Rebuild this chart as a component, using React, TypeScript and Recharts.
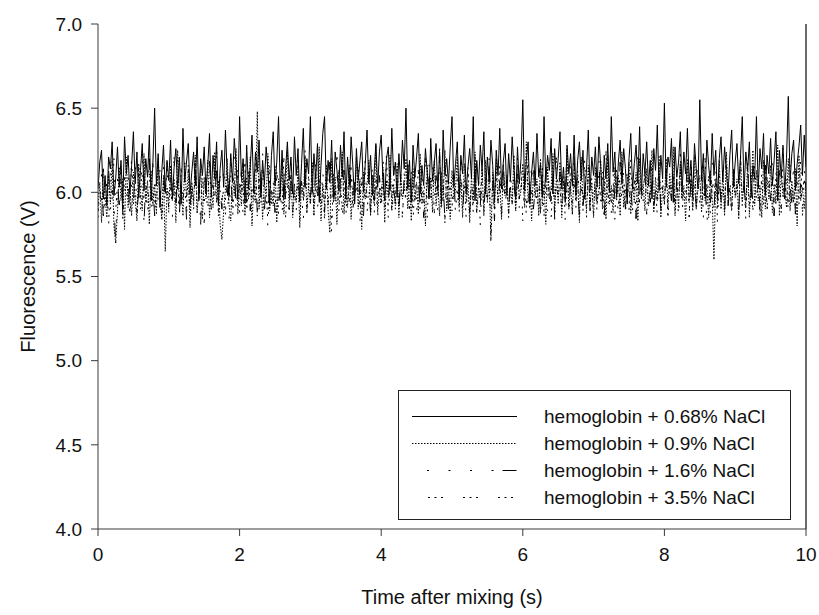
import React from 'react';
import { LineChart, Line, XAxis, YAxis, Legend, ReferenceLine } from 'recharts';

// sampling step of the recordings (s)
const SAMPLE_STEP = 0.025;

const SERIES_NAMES = [
  'hemoglobin + 0.68% NaCl',
  'hemoglobin + 0.9% NaCl',
  'hemoglobin + 1.6% NaCl',
  'hemoglobin + 3.5% NaCl',
];

const X_TICKS = [0, 2, 4, 6, 8, 10];
const Y_TICKS = [4.0, 4.5, 5.0, 5.5, 6.0, 6.5, 7.0];

const NACL_068 = [
  6.02, 6.18, 6.25, 5.96, 6.10, 5.92, 6.21, 6.14, 6.30, 5.98,
  6.08, 6.27, 6.03, 6.19, 5.94, 6.33, 6.11, 6.22, 5.99, 6.16,
  6.36, 6.05, 6.24, 5.97, 6.13, 6.29, 6.01, 6.20, 6.09, 6.34,
  5.95, 6.17, 6.50, 6.04, 6.23, 5.91, 6.12, 6.28, 6.00, 6.19,
  6.07, 6.31, 5.96, 6.15, 6.26, 6.02, 6.21, 5.93, 6.38, 6.06,
  6.18, 6.29, 5.99, 6.12, 6.24, 6.04, 6.33, 5.95, 6.20, 6.10,
  6.27, 6.01, 6.16, 6.35, 5.97, 6.22, 6.08, 6.30, 5.92, 6.14,
  6.25, 6.03, 6.37, 6.11, 5.98, 6.23, 6.06, 6.32, 6.17, 5.96,
  6.45, 6.09, 6.20, 5.94, 6.28, 6.02, 6.15, 6.34, 6.00, 6.24,
  6.12, 6.31, 5.97, 6.19, 6.05, 6.27, 6.13, 5.93, 6.22, 6.36,
  6.04, 6.18, 6.45, 6.01, 6.25, 5.96, 6.14, 6.30, 6.07, 6.21,
  5.99, 6.33, 6.10, 6.26, 5.95, 6.17, 6.38, 6.03, 6.20, 6.11,
  6.45, 6.00, 6.23, 6.08, 6.29, 5.94, 6.16, 6.35, 6.45, 6.02,
  6.19, 6.06, 6.31, 5.97, 6.24, 6.13, 6.01, 6.28, 6.09, 6.36,
  5.96, 6.21, 6.04, 6.33, 6.15, 5.93, 6.26, 6.07, 6.19, 6.30,
  6.00, 6.17, 6.37, 6.05, 6.22, 5.98, 6.12, 6.29, 6.03, 6.24,
  6.34, 6.08, 5.95, 6.20, 6.27, 6.01, 6.38, 6.10, 6.18, 5.97,
  6.23, 6.06, 6.31, 6.14, 6.50, 6.02, 6.19, 5.94, 6.28, 6.09,
  6.21, 6.35, 5.99, 6.16, 6.04, 6.26, 6.12, 5.96, 6.32, 6.07,
  6.18, 6.29, 6.01, 6.24, 5.93, 6.37, 6.10, 6.20, 6.05, 6.27,
  6.45, 6.03, 6.17, 6.30, 5.97, 6.22, 6.11, 6.34, 6.00, 6.15,
  6.26, 6.08, 6.45, 5.95, 6.19, 6.04, 6.28, 6.13, 6.36, 5.99,
  6.21, 6.06, 6.31, 6.16, 5.94, 6.25, 6.10, 6.38, 6.02, 6.18,
  6.29, 5.98, 6.23, 6.07, 6.33, 6.14, 5.96, 6.27, 6.05, 6.20,
  6.55, 6.01, 6.19, 6.30, 5.95, 6.12, 6.24, 6.04, 6.35, 6.09,
  6.17, 5.97, 6.45, 6.06, 6.22, 6.13, 6.32, 5.99, 6.26, 6.08,
  6.20, 6.36, 6.02, 6.15, 5.94, 6.28, 6.11, 6.23, 6.04, 6.34,
  5.98, 6.19, 6.30, 6.07, 6.25, 5.96, 6.14, 6.37, 6.01, 6.21,
  6.10, 6.27, 6.03, 6.33, 6.16, 5.95, 6.22, 6.08, 6.29, 6.00,
  6.45, 6.12, 6.24, 5.97, 6.18, 6.31, 6.05, 6.26, 6.14, 5.93,
  6.20, 6.35, 6.02, 6.17, 6.28, 6.06, 6.39, 5.99, 6.23, 6.11,
  6.30, 6.04, 6.19, 5.96, 6.26, 6.13, 6.40, 6.01, 6.22, 6.08,
  6.53, 6.03, 6.21, 6.15, 6.32, 5.94, 6.27, 6.09, 6.18, 6.36,
  6.00, 6.24, 6.11, 6.38, 6.05, 6.19, 5.97, 6.29, 6.14, 6.02,
  6.55, 6.07, 6.23, 5.98, 6.31, 6.16, 6.04, 6.35, 6.10, 6.25,
  5.96, 6.20, 6.33, 6.06, 6.27, 6.12, 5.99, 6.22, 6.37, 6.03,
  6.18, 6.29, 6.05, 6.21, 6.45, 6.01, 6.24, 6.13, 6.30, 5.97,
  6.16, 6.08, 6.45, 6.02, 6.26, 6.14, 6.35, 5.98, 6.22, 6.11,
  6.32, 6.04, 6.19, 6.36, 5.95, 6.25, 6.09, 6.28, 6.00, 6.20,
  6.57, 6.06, 6.23, 6.31, 6.01, 6.17, 6.27, 6.40, 6.10, 6.34,
  6.15,
];

const NACL_09 = [
  5.90, 6.06, 5.82, 6.14, 5.97, 5.85, 6.10, 5.93, 6.19, 5.80,
  5.70, 5.88, 6.15, 5.95, 6.08, 5.78, 6.21, 5.91, 6.04, 5.86,
  6.12, 5.96, 5.83, 6.17, 6.01, 5.89, 6.23, 5.94, 6.07, 5.81,
  6.13, 5.92, 6.05, 5.87, 6.20, 5.98, 5.84, 6.10, 5.65, 6.03,
  5.90, 6.16, 5.95, 6.08, 5.82, 6.25, 5.93, 6.04, 5.86, 6.18,
  5.97, 6.11, 5.79, 6.06, 5.92, 6.22, 5.88, 6.01, 6.14, 5.84,
  6.09, 5.96, 6.19, 5.85, 6.03, 5.91, 6.24, 5.94, 6.07, 5.81,
  5.72, 5.89, 6.02, 6.20, 5.93, 5.83, 6.11, 5.98, 6.26, 5.87,
  6.05, 5.92, 6.17, 5.86, 6.09, 5.96, 6.21, 5.80, 6.04, 5.94,
  6.48, 5.90, 6.12, 5.84, 6.06, 5.97, 6.23, 5.89, 6.01, 5.92,
  6.16, 5.82, 6.08, 5.95, 6.19, 5.87, 6.03, 6.25, 5.91, 6.10,
  5.85, 6.00, 5.94, 6.14, 5.79, 6.07, 5.96, 6.22, 5.88, 6.04,
  5.93, 6.18, 5.86, 6.11, 5.98, 6.27, 5.83, 6.05, 5.92, 6.15,
  5.89, 5.76, 6.20, 5.94, 6.09, 5.81, 6.13, 5.97, 6.24, 5.87,
  6.06, 5.91, 6.16, 5.84, 6.03, 5.95, 6.21, 5.90, 6.08, 5.78,
  6.12, 5.96, 6.04, 6.19, 5.86, 6.10, 5.93, 6.28, 5.88, 6.01,
  5.94, 6.15, 5.82, 6.07, 5.97, 6.22, 5.89, 6.05, 5.92, 6.17,
  5.85, 6.11, 5.96, 6.02, 6.20, 5.90, 6.08, 5.83, 6.14, 5.95,
  6.06, 5.87, 6.23, 5.93, 6.01, 5.80, 6.16, 5.97, 6.09, 5.88,
  6.19, 5.92, 6.04, 5.86, 6.12, 5.95, 6.25, 5.89, 6.07, 5.84,
  6.13, 5.96, 6.02, 6.21, 5.91, 6.08, 5.85, 6.17, 5.94, 6.05,
  5.82, 6.10, 5.93, 6.24, 5.88, 6.03, 5.97, 6.14, 5.86, 6.19,
  5.95, 6.07, 5.72, 6.12, 5.90, 6.20, 5.94, 6.04, 5.84, 6.16,
  5.98, 6.09, 5.87, 6.03, 5.93, 6.22, 5.89, 6.11, 5.96, 6.01,
  6.17, 5.91, 6.30, 5.94, 6.06, 5.83, 6.13, 5.97, 6.08, 5.86,
  6.20, 5.92, 6.05, 5.81, 6.15, 5.96, 6.02, 6.23, 5.88, 6.10,
  5.93, 6.18, 5.85, 6.07, 5.95, 6.26, 5.90, 6.04, 5.87, 6.14,
  5.97, 6.09, 5.82, 6.21, 5.94, 6.03, 5.89, 6.16, 5.92, 6.06,
  5.85, 6.13, 5.96, 6.01, 6.19, 5.90, 6.08, 5.84, 6.22, 5.93,
  6.04, 5.88, 6.15, 5.95, 6.10, 5.86, 6.24, 5.91, 6.02, 5.97,
  6.18, 5.87, 6.06, 5.94, 6.12, 5.83, 6.20, 5.96, 6.05, 5.89,
  6.14, 5.92, 6.01, 6.25, 5.88, 6.09, 5.95, 6.17, 5.85, 6.03,
  5.93, 6.20, 5.90, 6.11, 5.97, 6.27, 5.86, 6.06, 5.91, 6.15,
  5.96, 6.04, 5.83, 6.18, 5.94, 6.08, 5.89, 6.22, 5.92, 6.02,
  6.10, 5.88, 6.16, 5.95, 6.05, 5.85, 6.13, 5.97, 5.60, 6.07,
  5.93, 6.19, 5.90, 6.11, 5.86, 6.24, 5.96, 6.03, 5.89, 6.14,
  5.97, 6.08, 5.84, 6.21, 5.94, 6.06, 5.91, 6.17, 5.87, 6.02,
  6.25, 5.92, 6.13, 5.95, 6.04, 5.85, 6.19, 5.90, 6.09, 5.96,
  6.16, 5.88, 6.05, 5.93, 6.28, 5.86, 6.12, 5.97, 6.01, 5.91,
  6.20, 5.89, 6.07, 5.94, 6.14, 5.80, 6.22, 5.95, 6.03, 5.90,
  6.05,
];

const NACL_16 = [
  6.00, 5.92, 6.11, 5.86, 6.05, 5.95, 6.14, 5.89, 6.02, 5.94,
  5.70, 6.08, 5.91, 6.16, 5.87, 6.03, 5.96, 6.12, 5.84, 6.06,
  5.93, 6.18, 5.88, 6.01, 5.97, 6.10, 5.82, 6.07, 5.95, 6.20,
  5.90, 6.04, 5.86, 6.13, 5.94, 6.00, 5.83, 6.15, 5.92, 6.06,
  5.97, 6.11, 5.85, 6.03, 5.91, 6.19, 5.88, 6.05, 5.96, 6.09,
  5.84, 6.14, 5.93, 6.02, 5.89, 6.17, 5.95, 6.08, 5.81, 6.12,
  5.94, 6.04, 5.87, 6.21, 5.92, 6.06, 5.97, 6.13, 5.86, 6.01,
  5.90, 6.16, 5.95, 6.03, 5.83, 6.10, 5.93, 6.22, 5.88, 6.05,
  5.96, 6.12, 5.85, 6.07, 5.94, 6.18, 5.89, 6.02, 5.97, 6.14,
  5.87, 6.09, 5.92, 6.24, 5.90, 6.04, 5.78, 6.11, 5.95, 6.06,
  5.88, 6.15, 5.93, 6.01, 5.86, 6.13, 5.96, 6.08, 5.84, 6.19,
  5.91, 6.05, 5.89, 6.12, 5.95, 6.02, 5.82, 6.16, 5.93, 6.07,
  5.97, 6.10, 5.86, 6.21, 5.90, 6.03, 5.94, 6.14, 5.88, 6.06,
  5.92, 6.18, 5.85, 6.04, 5.96, 6.11, 5.89, 6.08, 5.83, 6.13,
  5.94, 6.02, 5.90, 6.17, 5.87, 6.06, 5.95, 6.20, 5.91, 6.09,
  5.86, 6.12, 5.97, 6.03, 5.88, 6.15, 5.93, 6.07, 5.84, 6.10,
  5.96, 6.23, 5.89, 6.05, 5.92, 6.13, 5.86, 6.01, 5.95, 6.16,
  5.90, 6.08, 5.83, 6.11, 5.94, 6.19, 5.88, 6.04, 5.97, 6.12,
  5.87, 6.06, 5.93, 6.14, 5.85, 6.02, 5.96, 6.18, 5.91, 6.07,
  5.95, 6.10, 5.88, 6.22, 5.92, 6.05, 5.84, 6.13, 5.90, 6.03,
  5.97, 6.15, 5.86, 6.08, 5.93, 6.19, 5.89, 6.04, 5.95, 6.11,
  5.88, 6.06, 5.94, 6.16, 5.85, 6.02, 5.92, 6.14, 5.87, 6.09,
  5.96, 6.20, 5.90, 6.05, 5.83, 6.12, 5.95, 6.07, 5.89, 6.17,
  5.92, 6.03, 5.86, 6.13, 5.94, 6.10, 5.88, 6.21, 5.91, 6.04,
  5.97, 6.11, 5.85, 6.06, 5.93, 6.18, 5.90, 6.02, 5.96, 6.14,
  5.87, 6.08, 5.92, 6.15, 5.89, 6.04, 5.95, 6.19, 5.84, 6.07,
  5.94, 6.12, 5.88, 6.03, 5.96, 6.16, 5.86, 6.09, 5.93, 6.22,
  5.90, 6.05, 5.85, 6.13, 5.92, 6.01, 5.97, 6.17, 5.89, 6.10,
  5.95, 6.06, 5.87, 6.20, 5.91, 6.04, 5.84, 6.14, 5.94, 6.08,
  5.88, 6.12, 5.96, 6.02, 5.86, 6.18, 5.93, 6.07, 5.90, 6.15,
  5.97, 6.03, 5.89, 6.11, 5.85, 6.23, 5.92, 6.05, 5.95, 6.13,
  5.87, 6.09, 5.94, 6.16, 5.90, 6.01, 5.96, 6.19, 5.88, 6.06,
  5.93, 6.14, 5.86, 6.04, 5.95, 6.12, 5.89, 6.08, 5.84, 6.17,
  5.92, 6.02, 5.97, 6.20, 5.87, 6.07, 5.94, 6.13, 5.90, 6.05,
  5.96, 6.15, 5.85, 6.09, 5.80, 6.04, 5.93, 6.18, 5.89, 6.11,
  5.91, 6.06, 5.95, 6.14, 5.87, 6.21, 5.92, 6.03, 5.86, 6.12,
  5.94, 6.08, 5.88, 6.17, 5.96, 6.05, 5.90, 6.22, 5.85, 6.10,
  5.93, 6.02, 5.97, 6.13, 5.89, 6.07, 5.94, 6.16, 5.87, 6.04,
  5.95, 6.19, 5.86, 6.09, 5.92, 6.14, 5.88, 6.06, 5.96, 6.11,
  5.90, 6.03, 5.94, 6.18, 5.87, 6.12, 5.93, 6.05, 5.89, 6.15,
  6.02,
];

const NACL_35 = [
  5.85, 6.03, 5.94, 6.15, 5.88, 6.08, 5.80, 6.12, 5.96, 6.20,
  5.89, 6.05, 5.92, 6.17, 5.84, 6.10, 5.97, 6.02, 5.87, 6.22,
  5.93, 6.06, 5.83, 6.14, 5.90, 6.25, 5.95, 6.04, 5.86, 6.11,
  5.91, 6.18, 5.88, 6.01, 5.96, 6.13, 5.82, 6.07, 5.94, 6.19,
  5.87, 6.04, 5.93, 6.21, 5.89, 6.09, 5.85, 6.15, 5.97, 6.02,
  5.90, 6.16, 5.84, 6.06, 5.95, 6.23, 5.88, 6.03, 5.92, 6.12,
  5.81, 6.08, 5.96, 6.17, 5.89, 6.05, 5.93, 6.26, 5.86, 6.10,
  5.94, 6.02, 5.87, 6.14, 5.91, 6.20, 5.83, 6.07, 5.97, 6.13,
  5.88, 6.05, 5.92, 6.18, 5.85, 6.11, 5.95, 6.03, 5.90, 6.22,
  5.86, 6.09, 5.94, 6.15, 5.89, 6.01, 5.82, 6.16, 5.93, 6.06,
  5.96, 6.12, 5.87, 6.04, 5.91, 6.21, 5.85, 6.08, 5.94, 6.14,
  5.89, 6.03, 5.95, 6.19, 5.83, 6.07, 5.92, 6.25, 5.88, 6.10,
  5.93, 6.16, 5.86, 6.05, 5.97, 6.13, 5.90, 6.02, 5.84, 6.18,
  5.92, 6.08, 5.75, 6.11, 5.95, 6.22, 5.88, 6.04, 5.91, 6.14,
  5.85, 6.06, 5.94, 6.17, 5.89, 6.01, 5.96, 6.12, 5.82, 6.09,
  5.93, 6.20, 5.87, 6.05, 5.92, 6.15, 5.86, 6.08, 5.95, 6.03,
  5.88, 6.13, 5.91, 6.24, 5.84, 6.07, 5.97, 6.16, 5.90, 6.02,
  5.94, 6.10, 5.86, 6.05, 5.93, 6.19, 5.89, 6.12, 5.83, 6.06,
  5.96, 6.14, 5.88, 6.03, 5.91, 6.21, 5.85, 6.09, 5.95, 6.17,
  5.87, 6.04, 5.93, 6.27, 5.90, 6.08, 5.82, 6.13, 5.94, 6.06,
  5.89, 6.11, 5.96, 6.02, 5.86, 6.18, 5.92, 6.07, 5.84, 6.15,
  5.93, 6.05, 5.88, 6.22, 5.95, 6.09, 5.80, 6.14, 5.91, 6.03,
  5.94, 6.16, 5.68, 6.07, 5.89, 6.12, 5.93, 6.20, 5.86, 6.05,
  5.97, 6.10, 5.85, 6.04, 5.92, 6.17, 5.88, 6.08, 5.95, 6.13,
  5.83, 6.06, 5.91, 6.24, 5.87, 6.02, 5.96, 6.15, 5.89, 6.09,
  5.92, 6.18, 5.86, 6.05, 5.94, 6.11, 5.84, 6.07, 5.90, 6.21,
  5.95, 6.03, 5.88, 6.14, 5.82, 6.09, 5.93, 6.19, 5.87, 6.06,
  5.91, 6.13, 5.96, 6.04, 5.89, 6.22, 5.85, 6.10, 5.94, 6.02,
  5.86, 6.16, 5.92, 6.07, 5.95, 6.12, 5.88, 6.25, 5.90, 6.05,
  5.93, 6.08, 5.84, 6.17, 5.91, 6.03, 5.97, 6.14, 5.87, 6.10,
  5.89, 6.20, 5.95, 6.06, 5.83, 6.11, 5.92, 6.04, 5.96, 6.18,
  5.87, 6.09, 5.93, 6.15, 5.90, 6.02, 5.86, 6.22, 5.94, 6.07,
  5.92, 6.13, 5.85, 6.05, 5.96, 6.16, 5.89, 6.08, 5.93, 6.24,
  5.88, 6.03, 5.95, 6.12, 5.84, 6.19, 5.91, 6.06, 5.87, 6.14,
  5.94, 6.07, 5.89, 6.21, 5.92, 6.10, 5.86, 6.04, 5.95, 6.16,
  5.81, 6.11, 5.93, 6.02, 5.90, 6.17, 5.96, 6.09, 5.88, 6.13,
  5.95, 6.05, 5.87, 6.23, 5.91, 6.08, 5.84, 6.15, 5.93, 6.03,
  5.89, 6.18, 5.94, 6.06, 5.86, 6.12, 5.92, 6.20, 5.90, 6.07,
  5.96, 6.10, 5.85, 6.14, 5.93, 6.04, 5.88, 6.26, 5.91, 6.09,
  5.87, 6.16, 5.94, 6.05, 5.90, 6.13, 5.95, 6.21, 5.86, 6.08,
  5.97,
];

const rows = NACL_068.map((v, i) => ({
  t: i * SAMPLE_STEP,
  s1: v,
  s2: NACL_09[i],
  s3: NACL_16[i],
  s4: NACL_35[i],
}));

const FONT = '"Liberation Sans", Arial, sans-serif';
const AXIS_COLOR = '#3a3a3a';
const DASHES = ['', '1.5 1.5', '2 19.5 2 19.5 2 19.5 2 9 14 6', '2 4.5 2 4.5 2 20'];
// legend samples start on a gap, like the original key
const LEGEND_DASHES = [
  '',
  '1.5 1.5',
  '0 15 2 19.5 2 19.5 2 19.5 2 9 14 200',
  '0 16 2 4.5 2 4.5 2 20 2 4.5 2 4.5 2 20 2 4.5 2 4.5 2 200',
];
// drawing order: solid trace last so it sits on top
const KEYS = ['s3', 's4', 's2', 's1'];

const LegendBox = () => (
  <div
    style={{
      border: '1px solid #222',
      background: '#fff',
      boxSizing: 'border-box',
      width: 393,
      height: 130,
      paddingTop: 12,
      fontFamily: FONT,
      fontSize: 19,
      color: '#111',
    }}
  >
    {SERIES_NAMES.map((name, i) => (
      <div key={name} style={{ height: 27, display: 'flex', alignItems: 'center' }}>
        <svg width={145} height={27} style={{ flex: 'none' }}>
          <line
            x1={13}
            x2={118}
            y1={13.5}
            y2={13.5}
            stroke="#000"
            strokeWidth={1}
            strokeDasharray={LEGEND_DASHES[i] || undefined}
          />
        </svg>
        <span>{name}</span>
      </div>
    ))}
  </div>
);

const YTitle = ({ viewBox }: any) => {
  const cy = viewBox.y + viewBox.height / 2;
  return (
    <text x={28} y={cy} transform={`rotate(-90, 28, ${cy})`} textAnchor="middle" dominantBaseline="central" fontSize={20} fontFamily={FONT} fill="#111">
      Fluorescence (V)
    </text>
  );
};

const XTitle = ({ viewBox }: any) => {
  const cx = viewBox.x + viewBox.width / 2;
  return (
    <text x={cx} y={viewBox.y + 68} textAnchor="middle" dominantBaseline="central" fontSize={20} fontFamily={FONT} fill="#111">
      Time after mixing (s)
    </text>
  );
};

export default function App() {
  return (
    <div style={{ position: 'absolute', left: 0, top: 0, background: '#fff' }}>
      <LineChart width={819} height={615} data={rows} margin={{ top: 24, right: 13, bottom: 0, left: 0 }}>
        <XAxis
          dataKey="t"
          type="number"
          domain={[0, 10]}
          ticks={X_TICKS}
          allowDataOverflow
          height={86}
          tickSize={7}
          tickMargin={12}
          stroke={AXIS_COLOR}
          tick={{ fill: '#111', fontSize: 19, fontFamily: FONT }}
          label={<XTitle />}
        />
        <YAxis
          type="number"
          domain={[4, 7]}
          ticks={Y_TICKS}
          allowDataOverflow
          width={98}
          tickSize={7}
          tickMargin={9}
          stroke={AXIS_COLOR}
          tickFormatter={(v: number) => v.toFixed(1)}
          tick={{ fill: '#111', fontSize: 19, fontFamily: FONT }}
          label={<YTitle />}
        />
        <ReferenceLine x={10} stroke={AXIS_COLOR} strokeWidth={1.5} />
        {KEYS.map((k) => {
          const idx = Number(k.slice(1)) - 1;
          return (
            <Line
              key={k}
              dataKey={k}
              name={SERIES_NAMES[idx]}
              type="linear"
              stroke="#000"
              strokeWidth={1}
              strokeDasharray={DASHES[idx] || undefined}
              dot={false}
              activeDot={false}
              isAnimationActive={false}
            />
          );
        })}
        <Legend
          layout="vertical"
          align="center"
          verticalAlign="middle"
          content={<LegendBox />}
          wrapperStyle={{ left: 398, top: 390, width: 393 }}
        />
      </LineChart>
    </div>
  );
}
